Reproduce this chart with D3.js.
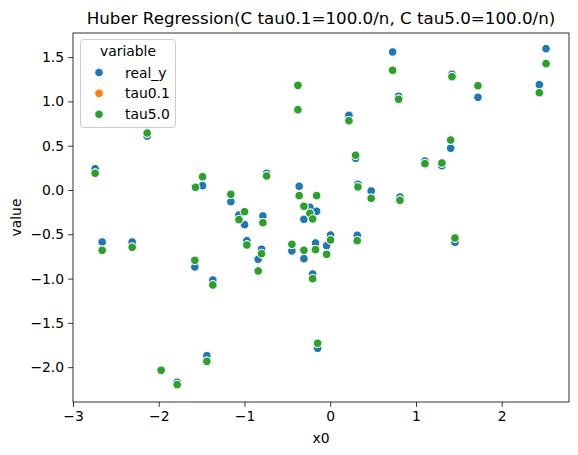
<!DOCTYPE html>
<html>
<head>
<meta charset="utf-8">
<script src="https://cdn.jsdelivr.net/npm/d3@7"></script>
<style>
    body { margin: 0; background: #fff; }
    svg { font-family: "DejaVu Sans", sans-serif; }
</style>
</head>
<body>
<div id="chart"></div>
<script>
// x0 for each sample
var x0 = [-2.742, -2.660, -2.310, -2.135, -1.972, -1.785, -1.579, -1.571, -1.489, -1.439,
          -1.369, -1.159, -1.065, -0.999, -0.972, -0.840, -0.801, -0.785, -0.742, -0.447,
          -0.377, -0.377, -0.362, -0.307, -0.307, -0.237, -0.205, -0.205, -0.171, -0.159,
          -0.147, -0.042, 0.004, 0.218, 0.296, 0.315, 0.323, 0.478, 0.728, 0.798,
          0.813, 1.105, 1.303, 1.405, 1.420, 1.455, 1.723, 2.439, 2.517];

// observed values
var realY = [0.240, -0.587, -0.587, 0.609, -2.030, -2.170, -0.869, 0.030, 0.049, -1.870,
             -1.016, -0.132, -0.282, -0.391, -0.572, -0.782, -0.669, -0.293, 0.188, -0.688,
             1.180, 0.900, 0.042, -0.331, -0.775, -0.195, -0.948, -0.327, -0.598, -0.240,
             -1.787, -0.628, -0.508, 0.843, 0.358, -0.511, 0.064, -0.011, 1.558, 1.058,
             -0.079, 0.327, 0.274, 0.471, 1.306, -0.590, 1.046, 1.189, 1.595];

// predictions, tau = 5.0
var tau50 = [0.189, -0.681, -0.647, 0.643, -2.035, -2.197, -0.794, 0.030, 0.150, -1.934,
             -1.072, -0.049, -0.335, -0.245, -0.621, -0.914, -0.719, -0.369, 0.158, -0.613,
             1.181, 0.906, -0.064, -0.184, -0.681, -0.263, -1.001, -0.327, -0.673, -0.064,
             -1.730, -0.726, -0.564, 0.782, 0.392, -0.572, 0.034, -0.094, 1.351, 1.024,
             -0.116, 0.297, 0.305, 0.564, 1.279, -0.542, 1.177, 1.098, 1.426];

// predictions, tau = 0.1 (same as tau5.0, hidden underneath)
var tau01 = tau50.slice();

var seriesNames = ['real_y', 'tau0.1', 'tau5.0'];
var seriesColors = ['#1f77b4', '#ff7f0e', '#2ca02c'];
var xTicks = [-3, -2, -1, 0, 1, 2];
var yTicks = [-2.0, -1.5, -1.0, -0.5, 0.0, 0.5, 1.0, 1.5];

var width = 578,
    height = 455,
    margin = {top: 33, right: 9, bottom: 53, left: 73};

var svg = d3.select('#chart').append('svg')
    .attr('width', width)
    .attr('height', height);

var x = d3.scaleLinear()
    .domain([-3, 2.785])
    .range([margin.left, width - margin.right]);

var y = d3.scaleLinear()
    .domain([-2.393, 1.772])
    .range([height - margin.bottom, margin.top]);

// long form, like seaborn melt: all real_y, then tau0.1, then tau5.0
var seriesValues = [realY, tau01, tau50];
var points = [];
seriesValues.forEach(function(vals, s) {
    vals.forEach(function(v, i) {
        points.push({x: x0[i], y: v, s: s});
    });
});

var fmtMinus = function(d, f) {
    return d3.format(f)(d).replace('-', '\u2212');
};

// axes
var xAxis = svg.append('g')
    .attr('transform', 'translate(0,' + (height - margin.bottom) + ')')
    .call(d3.axisBottom(x).tickValues(xTicks).tickSize(4.9).tickPadding(4)
        .tickFormat(function(d) { return fmtMinus(d, 'd'); }));

var yAxis = svg.append('g')
    .attr('transform', 'translate(' + margin.left + ',0)')
    .call(d3.axisLeft(y).tickValues(yTicks).tickSize(4.9).tickPadding(4)
        .tickFormat(function(d) { return fmtMinus(d, '.1f'); }));

[xAxis, yAxis].forEach(function(a) {
    a.select('.domain').remove();
    a.selectAll('line').attr('stroke', '#000').attr('stroke-width', 0.8);
    a.selectAll('text').attr('font-size', '13.9px').attr('fill', '#000')
        .attr('font-family', '"DejaVu Sans", sans-serif');
});

// frame
svg.append('rect')
    .attr('x', margin.left)
    .attr('y', margin.top)
    .attr('width', width - margin.left - margin.right)
    .attr('height', height - margin.top - margin.bottom)
    .attr('fill', 'none')
    .attr('stroke', '#000')
    .attr('stroke-width', 0.8);

// points
svg.append('g').selectAll('circle')
    .data(points)
    .enter().append('circle')
    .attr('cx', function(d) { return x(d.x); })
    .attr('cy', function(d) { return y(d.y); })
    .attr('r', 4.3)
    .attr('fill', function(d) { return seriesColors[d.s]; })
    .attr('stroke', '#fff')
    .attr('stroke-width', 1);

// title and labels
svg.append('text')
    .attr('x', (margin.left + width - margin.right) / 2)
    .attr('y', 24)
    .attr('text-anchor', 'middle')
    .attr('font-size', '16.7px')
    .text('Huber Regression(C tau0.1=100.0/n, C tau5.0=100.0/n)');

svg.append('text')
    .attr('x', (margin.left + width - margin.right) / 2)
    .attr('y', 443)
    .attr('text-anchor', 'middle')
    .attr('font-size', '13.9px')
    .text('x0');

svg.append('text')
    .attr('transform', 'translate(21,' + ((margin.top + height - margin.bottom) / 2) + ')rotate(-90)')
    .attr('text-anchor', 'middle')
    .attr('font-size', '13.9px')
    .text('value');

// legend
var legend = svg.append('g');
legend.append('rect')
    .attr('x', 80.5)
    .attr('y', 39.5)
    .attr('width', 95)
    .attr('height', 88)
    .attr('rx', 3)
    .attr('fill', '#fff')
    .attr('fill-opacity', 0.8)
    .attr('stroke', '#ccc')
    .attr('stroke-width', 1);

legend.append('text')
    .attr('x', 128)
    .attr('y', 56)
    .attr('text-anchor', 'middle')
    .attr('font-size', '13.9px')
    .text('variable');

var entries = legend.selectAll('.legend-entry')
    .data(seriesNames)
    .enter().append('g')
    .attr('class', 'legend-entry')
    .attr('transform', function(d, i) { return 'translate(0,' + (72.5 + i * 20.9) + ')'; });

entries.append('circle')
    .attr('cx', 99)
    .attr('cy', 0)
    .attr('r', 4.3)
    .attr('fill', function(d, i) { return seriesColors[i]; })
    .attr('stroke', '#fff')
    .attr('stroke-width', 1);

entries.append('text')
    .attr('x', 125)
    .attr('y', 5)
    .attr('font-size', '13.9px')
    .text(function(d) { return d; });
</script>
</body>
</html>
